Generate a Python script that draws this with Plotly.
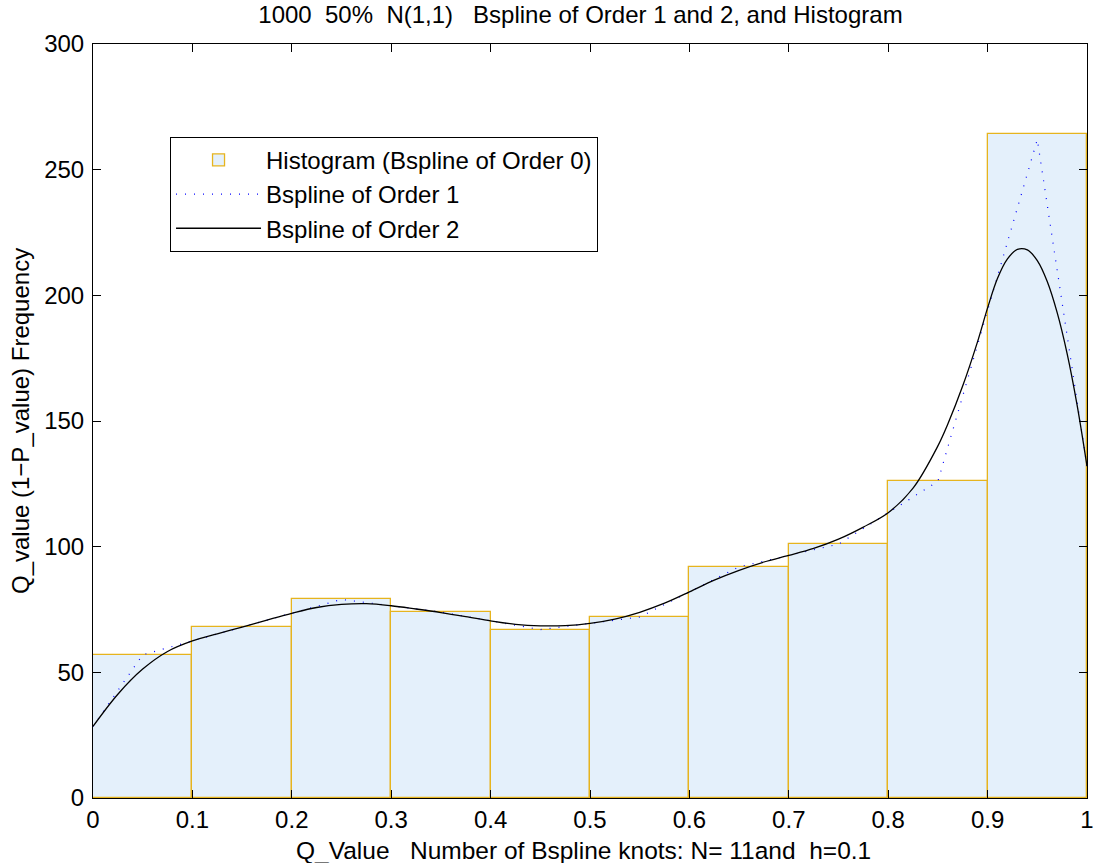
import plotly.graph_objects as go

# Histogram (B-spline of order 0)
bin_centers = [0.05, 0.15, 0.25, 0.35, 0.45, 0.55, 0.65, 0.75, 0.85, 0.95]
bin_counts = [57, 68, 79, 74, 67, 72, 92, 101, 126, 264]

# B-spline of order 1 (read vertices)
x_o1 = [0.0, 0.05, 0.15, 0.25, 0.35, 0.45, 0.55, 0.65, 0.75, 0.85, 0.95, 1.0]
y_o1 = [28.5, 57, 68, 79, 74, 67, 72, 92, 101, 126, 262, 132]

# B-spline of order 2
x_o2 = [0, 0.025, 0.05, 0.075, 0.1, 0.125, 0.15, 0.175, 0.2, 0.225, 0.25, 0.275,
        0.3, 0.325, 0.35, 0.375, 0.4, 0.425, 0.45, 0.475, 0.5, 0.525, 0.55, 0.575,
        0.6, 0.625, 0.65, 0.675, 0.7, 0.725, 0.75, 0.775, 0.8, 0.825, 0.85, 0.86,
        0.875, 0.89, 0.9, 0.91, 0.92, 0.93, 0.94, 0.95, 0.96, 0.97, 0.98, 0.99, 1.0]
y_o2 = [28.5, 41.3, 51.3, 58.3, 62.5, 65.3, 68, 70.8, 73.5, 75.8, 77, 77.3,
        76.5, 75.2, 73.8, 72.2, 70.5, 69.1, 68.5, 68.6, 69.5, 71.2, 73.9, 77.5,
        82, 86.7, 90.6, 93.9, 96.5, 99.3, 103, 107.8, 113.5, 123.3, 140.1, 148.8,
        164, 181.7, 195, 206.8, 214.5, 218.3, 218.1, 213.8, 205.5, 193.1, 176.8, 156.4, 132]

x_ticks = [0, 0.1, 0.2, 0.3, 0.4, 0.5, 0.6, 0.7, 0.8, 0.9, 1]
x_tick_labels = ["0", "0.1", "0.2", "0.3", "0.4", "0.5", "0.6", "0.7", "0.8", "0.9", "1"]
y_ticks = [0, 50, 100, 150, 200, 250, 300]

FONT = "Liberation Sans, Arial, Helvetica, sans-serif"
FS = 24

fig = go.Figure()
fig.add_trace(go.Bar(
    x=bin_centers, y=bin_counts, width=0.1,
    marker=dict(color="#E4F0FB", line=dict(color="#E6B41E", width=1.3)),
    name="Histogram (Bspline of Order 0)",
))
fig.add_trace(go.Scatter(
    x=x_o1, y=y_o1, mode="lines",
    line=dict(color="#0000FF", width=1.2, dash="1px,8px"),
    name="Bspline of Order 1",
))
fig.add_trace(go.Scatter(
    x=x_o2, y=y_o2, mode="lines",
    line=dict(color="black", width=1.3, shape="spline", smoothing=1),
    name="Bspline of Order 2",
))

fig.update_layout(
    width=1094, height=863,
    margin=dict(l=93, r=7, t=44, b=65, autoexpand=False),
    paper_bgcolor="white", plot_bgcolor="white",
    font=dict(family=FONT, size=FS, color="black"),
    title=dict(text="1000  50%  N(1,1)   Bspline of Order 1 and 2, and Histogram",
               x=0.5306, xanchor="center", y=0.983, yanchor="middle",
               font=dict(size=FS, family=FONT)),
    bargap=0,
    showlegend=True,
    legend=dict(x=0.0775, y=0.877, xanchor="left", yanchor="top",
                bgcolor="white", bordercolor="black", borderwidth=1,
                font=dict(size=FS, family=FONT), itemwidth=85,
                tracegroupgap=0),
    annotations=[
        dict(text="Q_Value   Number of Bspline knots: N= 11and  h=0.1",
             xref="paper", yref="paper", x=0.4935, y=-0.069,
             xanchor="center", yanchor="middle", showarrow=False,
             font=dict(size=24.5, family=FONT)),
        dict(text="Q_value (1\u2212P_value) Frequency",
             xref="paper", yref="paper", x=-0.0734, y=0.5,
             xanchor="center", yanchor="middle", showarrow=False, textangle=-90,
             font=dict(size=FS, family=FONT)),
    ],
)
fig.update_xaxes(
    range=[0, 1], tickvals=x_ticks, ticktext=x_tick_labels,
    ticks="inside", ticklen=8, tickcolor="black",
    showline=True, linecolor="black", linewidth=1, mirror="ticks",
    showgrid=False, zeroline=False, automargin=False,
)
fig.update_yaxes(
    range=[0, 300], tickvals=y_ticks,
    ticks="inside", ticklen=8, tickcolor="black",
    showline=True, linecolor="black", linewidth=1, mirror="ticks",
    showgrid=False, zeroline=False, automargin=False, ticklabelstandoff=3,
)

fig.write_html("out.html")
